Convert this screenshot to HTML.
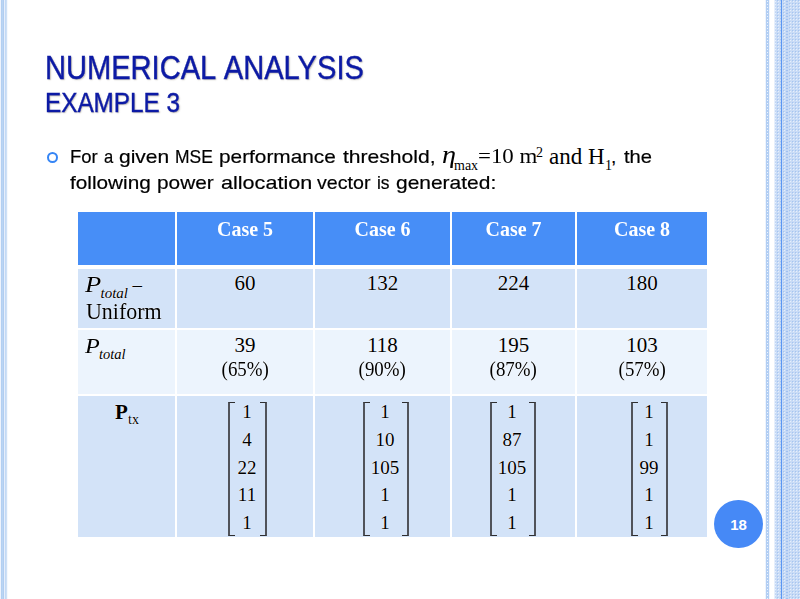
<!DOCTYPE html>
<html>
<head>
<meta charset="utf-8">
<style>
html,body{margin:0;padding:0;}
body{width:800px;height:599px;overflow:hidden;background:#fff;position:relative;font-family:"Liberation Sans",sans-serif;}
.abs{position:absolute;white-space:nowrap;}
#lstripe{position:absolute;left:0;top:0;width:8px;height:599px;
 background:linear-gradient(to right,#eef3fc 0,#eef3fc 1px,#b3cff2 1px,#b3cff2 2px,#bad5f3 2px,#bad5f3 3px,#b1cdf1 3px,#b1cdf1 4px,#e6eefb 4px,#e6eefb 5px,#c3daf5 5px,#c3daf5 6px,#cfe0f6 6px,#cfe0f6 7px,#f5f9fe 7px,#f5f9fe 8px);}
#rdeco{position:absolute;left:764px;top:0;width:36px;height:599px;}
.title{color:#0c1aa5;-webkit-text-stroke:0.4px #0c1aa5;text-shadow:1px 1px 1.5px rgba(110,100,80,.45);transform-origin:0 0;}
.body{color:#000;font-size:19px;line-height:20px;transform-origin:0 0;-webkit-text-stroke:0.2px #000;}
.ser{font-family:"Liberation Serif",serif;}
#bullet{position:absolute;left:47px;top:151.5px;width:7px;height:7px;border:2px solid #3585f5;border-radius:50%;}
#tbl{position:absolute;left:78px;top:212px;width:629px;height:325px;background:#fff;}
.cell{position:absolute;}
.hd{background:#478ef7;}
.r1{background:#d3e3f8;}
.r2{background:#ecf4fd;}
.ct{position:absolute;font-family:"Liberation Serif",serif;white-space:nowrap;color:#000;text-shadow:0 0 1px #fff,0 0 1px #fff;}
.hdt{text-shadow:none;color:#fff;font-weight:bold;font-size:21px;transform:scaleX(0.95);}
.num{font-size:21px;}
.pct{display:inline-block;transform:scaleX(0.9);}
.brk{position:absolute;border-style:solid;border-color:#2e2e30 #50535a;border-width:1px 2px;filter:drop-shadow(0 0 0.7px #fff);}
.bl{border-right:none;}
.br{border-left:none;}
.mnum{text-shadow:0 0 1px #fff,0 0 1px #fff;position:absolute;font-family:"Liberation Serif",serif;font-size:19px;text-align:center;width:60px;}
#pg{position:absolute;left:714px;top:499.5px;width:49px;height:48.5px;border-radius:50%;background:#4689f6;color:#fff;font-weight:bold;font-size:15px;line-height:49px;text-align:center;}
</style>
</head>
<body>
<div id="lstripe"></div>
<svg id="rdeco" width="36" height="599" viewBox="0 0 36 599">
 <defs>
  <pattern id="chk" x="1" y="0" width="3" height="3" patternUnits="userSpaceOnUse">
   <rect width="3" height="3" fill="#cadcf6"/>
   <rect x="0" y="0" width="1" height="1" fill="#a6c5f0"/>
   <rect x="1" y="1" width="1" height="1" fill="#e6effc"/>
   <rect x="1" y="0" width="1" height="1" fill="#c0d6f5"/>
   <rect x="0" y="1" width="1" height="1" fill="#c0d6f5"/>
  </pattern>
  <pattern id="dots" x="2" y="0" width="3" height="3" patternUnits="userSpaceOnUse">
   <rect width="3" height="3" fill="#b2cef3"/>
   <rect x="1" y="1" width="1" height="1" fill="#eef4fd"/>
  </pattern>
  <pattern id="dk" x="22" y="0" width="2" height="3" patternUnits="userSpaceOnUse">
   <rect width="2" height="3" fill="#c2d7f5"/>
   <rect x="0" y="1" width="2" height="1" fill="#a2c1f0"/>
  </pattern>
 </defs>
 <rect x="1" y="0" width="1" height="599" fill="#eef4fd"/>
 <rect x="2" y="0" width="3" height="599" fill="url(#dots)"/>
 <rect x="5" y="0" width="1" height="599" fill="#eef4fd"/>
 <rect x="10" y="0" width="1" height="599" fill="#e6effc"/>
 <rect x="11" y="0" width="6" height="599" fill="url(#chk)"/>
 <rect x="17" y="0" width="1" height="599" fill="#5a96f2"/>
 <rect x="18" y="0" width="18" height="599" fill="url(#chk)"/>
 <rect x="22" y="0" width="2" height="599" fill="url(#dk)"/>
</svg>

<div class="abs title" id="t1" style="left:44.5px;top:49px;font-size:33px;word-spacing:2.5px;transform:scaleX(0.881);">NUMERICAL ANALYSIS</div>
<div class="abs title" id="t2" style="left:45px;top:88px;font-size:27px;transform:scaleX(0.90);">EXAMPLE 3</div>

<div id="bullet"></div>
<div class="abs body" style="left:70.03px;top:147px;transform:scaleX(0.972);">For</div>
<div class="abs body" style="left:103.88px;top:147px;transform:scaleX(0.875);">a</div>
<div class="abs body" style="left:118.65px;top:147px;transform:scaleX(1.105);">given</div>
<div class="abs body" style="left:174.58px;top:147px;transform:scaleX(0.919);">MSE</div>
<div class="abs body" style="left:218.90px;top:147px;transform:scaleX(1.095);">performance</div>
<div class="abs body" style="left:342.80px;top:147px;transform:scaleX(1.109);">threshold,</div>
<div class="abs ser" id="eta" style="left:442px;top:141px;font-size:24.5px;font-style:italic;transform:scaleX(1.15);transform-origin:0 0;">η</div>
<div class="abs ser" id="max" style="left:454px;top:157.5px;font-size:14px;">max</div>
<div class="abs ser" id="eq" style="left:478px;top:143px;font-size:22px;transform:scaleX(1.04);transform-origin:0 0;">=10 m</div>
<div class="abs ser" id="sq" style="left:536px;top:145px;font-size:14px;">2</div>
<div class="abs ser" id="andh" style="left:549px;top:143.5px;font-size:23px;">and H</div>
<div class="abs ser" id="sub1" style="left:605px;top:158px;font-size:14px;">1</div>
<div class="abs body" style="left:610.90px;top:147px;">,</div>
<div class="abs body" style="left:623.50px;top:147px;transform:scaleX(1.062);">the</div>
<div class="abs body" style="left:70.10px;top:173px;transform:scaleX(1.093);">following</div>
<div class="abs body" style="left:157.00px;top:173px;transform:scaleX(1.096);">power</div>
<div class="abs body" style="left:221.06px;top:173px;transform:scaleX(1.136);">allocation</div>
<div class="abs body" style="left:317.10px;top:173px;transform:scaleX(1.033);">vector</div>
<div class="abs body" style="left:376.68px;top:173px;transform:scaleX(0.917);">is</div>
<div class="abs body" style="left:395.80px;top:173px;transform:scaleX(1.103);">generated:</div>

<div id="tbl">
 <!-- header -->
 <div class="cell hd" style="left:0;top:0;width:97px;height:53px"></div>
 <div class="cell hd" style="left:99px;top:0;width:136px;height:53px"></div>
 <div class="cell hd" style="left:237px;top:0;width:135px;height:53px"></div>
 <div class="cell hd" style="left:374px;top:0;width:123px;height:53px"></div>
 <div class="cell hd" style="left:499px;top:0;width:130px;height:53px"></div>
 <!-- row1 -->
 <div class="cell r1" style="left:0;top:57px;width:97px;height:59px"></div>
 <div class="cell r1" style="left:99px;top:57px;width:136px;height:59px"></div>
 <div class="cell r1" style="left:237px;top:57px;width:135px;height:59px"></div>
 <div class="cell r1" style="left:374px;top:57px;width:123px;height:59px"></div>
 <div class="cell r1" style="left:499px;top:57px;width:130px;height:59px"></div>
 <!-- row2 -->
 <div class="cell r2" style="left:0;top:118px;width:97px;height:64px"></div>
 <div class="cell r2" style="left:99px;top:118px;width:136px;height:64px"></div>
 <div class="cell r2" style="left:237px;top:118px;width:135px;height:64px"></div>
 <div class="cell r2" style="left:374px;top:118px;width:123px;height:64px"></div>
 <div class="cell r2" style="left:499px;top:118px;width:130px;height:64px"></div>
 <!-- row3 -->
 <div class="cell r1" style="left:0;top:184px;width:97px;height:141px"></div>
 <div class="cell r1" style="left:99px;top:184px;width:136px;height:141px"></div>
 <div class="cell r1" style="left:237px;top:184px;width:135px;height:141px"></div>
 <div class="cell r1" style="left:374px;top:184px;width:123px;height:141px"></div>
 <div class="cell r1" style="left:499px;top:184px;width:130px;height:141px"></div>
</div>

<!-- header texts -->
<div id="h1" class="ct hdt" style="left:177px;width:136px;top:216.5px;text-align:center">Case 5</div>
<div id="h2" class="ct hdt" style="left:315px;width:135px;top:216.5px;text-align:center">Case 6</div>
<div id="h3" class="ct hdt" style="left:452px;width:123px;top:216.5px;text-align:center">Case 7</div>
<div id="h4" class="ct hdt" style="left:577px;width:130px;top:216.5px;text-align:center">Case 8</div>

<!-- row1 -->
<div id="p1" class="ct" style="left:85px;top:270.5px;font-size:23.5px;font-style:italic;transform:scaleX(1.13);transform-origin:0 0;">P</div>
<div id="p1s" class="ct" style="left:100.5px;top:285px;font-size:15px;font-style:italic;">total</div>
<div id="p1d" class="ct" style="left:132.5px;top:274px;font-size:19px;">–</div>
<div id="uni" class="ct" style="left:86px;top:298px;font-size:24px;transform:scaleX(0.915);transform-origin:0 0;">Uniform</div>
<div id="a1" class="ct num" style="left:177px;width:136px;top:271px;text-align:center">60</div>
<div id="a2" class="ct num" style="left:315px;width:135px;top:271px;text-align:center">132</div>
<div id="a3" class="ct num" style="left:452px;width:123px;top:271px;text-align:center">224</div>
<div id="a4" class="ct num" style="left:577px;width:130px;top:271px;text-align:center">180</div>

<!-- row2 -->
<div id="p2" class="ct" style="left:85px;top:333px;font-size:22px;font-style:italic;transform:scaleX(1.1);transform-origin:0 0;">P</div>
<div id="p2s" class="ct" style="left:99px;top:345.5px;font-size:14.5px;font-style:italic;">total</div>
<div id="b1" class="ct num" style="left:177px;width:136px;top:333px;text-align:center;line-height:24px">39<br><span class="pct">(65%)</span></div>
<div id="b2" class="ct num" style="left:315px;width:135px;top:333px;text-align:center;line-height:24px">118<br><span class="pct">(90%)</span></div>
<div id="b3" class="ct num" style="left:452px;width:123px;top:333px;text-align:center;line-height:24px">195<br><span class="pct">(87%)</span></div>
<div id="b4" class="ct num" style="left:577px;width:130px;top:333px;text-align:center;line-height:24px">103<br><span class="pct">(57%)</span></div>

<!-- row3 -->
<div id="ptx" class="ct" style="left:115px;top:400px;font-size:21px;font-weight:bold;">P</div>
<div id="ptxs" class="ct" style="left:128px;top:412px;font-size:14px;">tx</div>

<!-- matrices -->
<div id="bl1" class="brk bl" style="left:228px;top:402px;width:5px;height:132px"></div>
<div id="br1" class="brk br" style="left:260px;top:402px;width:5px;height:132px"></div>
<div id="m1" class="mnum" style="left:217px;top:398px;line-height:27.8px">1<br>4<br>22<br>11<br>1</div>

<div id="bl2" class="brk bl" style="left:363px;top:402px;width:5px;height:132px"></div>
<div id="br2" class="brk br" style="left:402px;top:402px;width:5px;height:132px"></div>
<div id="m2" class="mnum" style="left:355px;top:398px;line-height:27.8px">1<br>10<br>105<br>1<br>1</div>

<div id="bl3" class="brk bl" style="left:490px;top:402px;width:5px;height:132px"></div>
<div id="br3" class="brk br" style="left:529px;top:402px;width:5px;height:132px"></div>
<div id="m3" class="mnum" style="left:482px;top:398px;line-height:27.8px">1<br>87<br>105<br>1<br>1</div>

<div id="bl4" class="brk bl" style="left:631px;top:402px;width:5px;height:132px"></div>
<div id="br4" class="brk br" style="left:661px;top:402px;width:5px;height:132px"></div>
<div id="m4" class="mnum" style="left:619px;top:398px;line-height:27.8px">1<br>1<br>99<br>1<br>1</div>

<div id="pg">18</div>
</body>
</html>
